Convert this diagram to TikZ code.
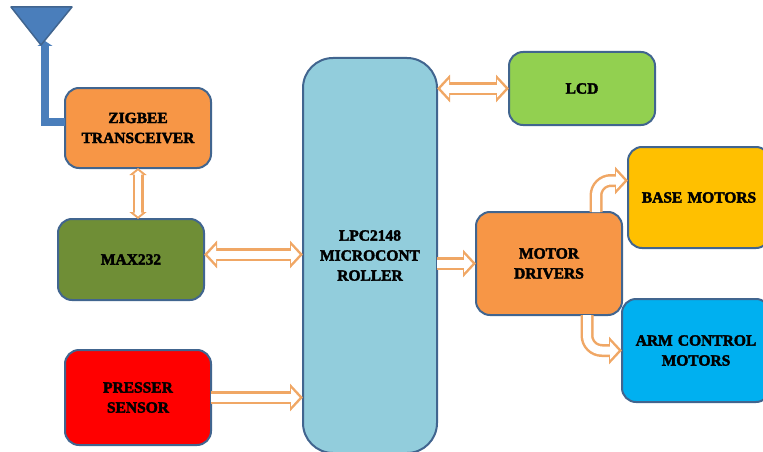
\documentclass[tikz,border=0pt]{standalone}
\usepackage{xcolor}
\usepackage{fontspec}
\setmainfont{Liberation Serif}[BoldFeatures={FakeBold=2.5}]
\usepackage{tikz}
\usetikzlibrary{arrows.meta, positioning}

\definecolor{edgeblue}{HTML}{41658F}
\definecolor{antblue}{HTML}{4A7EBB}
\definecolor{busorange}{HTML}{F0A765}
\definecolor{driveorange}{HTML}{F79646}
\definecolor{maxgreen}{HTML}{6F8E36}
\definecolor{lpcblue}{HTML}{92CDDC}
\definecolor{lcdgreen}{HTML}{92D050}
\definecolor{baseyellow}{HTML}{FFC000}
\definecolor{armblue}{HTML}{00B0F0}

\tikzset{
  block/.style={draw=edgeblue, line width=2pt, rounded corners=14pt, inner sep=0pt, outer sep=0pt,
    align=center, font=\bfseries\fontsize{15.5}{20}\selectfont},
  bus/.style={line width=13pt, busorange, -{Triangle[length=13pt,width=27pt]},
    postaction={draw=white, line width=8pt, shorten >=3.5pt, -{Triangle[length=8.5pt,width=18pt]}}},
  twobus/.style={line width=13pt, busorange, {Triangle[length=13pt,width=27pt]}-{Triangle[length=13pt,width=27pt]},
    postaction={draw=white, line width=8pt, shorten >=3.5pt, shorten <=3.5pt,
      {Triangle[length=8.5pt,width=18pt]}-{Triangle[length=8.5pt,width=18pt]}}},
  thinbus/.style={line width=11pt, busorange, {Triangle[length=7pt,width=17pt]}-{Triangle[length=7pt,width=17pt]},
    postaction={draw=white, line width=6pt, shorten >=2.5pt, shorten <=2.5pt,
      {Triangle[length=4pt,width=9pt]}-{Triangle[length=4pt,width=9pt]}}},
}

\begin{document}
\begin{tikzpicture}[x=1pt, y=-1pt, on grid]
        \useasboundingbox (0,0) rectangle (763,452);
        \clip (0,0) rectangle (763,452);

        \node[block, fill=lpcblue, rounded corners=30pt, minimum width=134pt, minimum height=395pt] (lpc) at (370,255.5) {LPC2148\\MICROCONT\\ROLLER};
        \node[block, fill=maxgreen, minimum width=146pt, minimum height=81pt] (max) [below left=4pt and 239pt of lpc] {MAX232};
        \node[block, fill=driveorange, minimum width=146pt, minimum height=80pt] (zigbee) [above right=131.5pt and 7pt of max] {ZIGBEE\\TRANSCEIVER};
        \node[block, fill=red, minimum width=146pt, minimum height=95pt] (presser) [below right=138pt and 7pt of max] {PRESSER\\SENSOR};
        \node[block, fill=driveorange, minimum width=146pt, minimum height=103pt] (motor) [below right=8pt and 179pt of lpc] {MOTOR\\DRIVERS};
        \node[block, fill=lcdgreen, minimum width=146pt, minimum height=73pt] (lcd) [above right=175pt and 33pt of motor] {LCD};
        \node[block, fill=baseyellow, minimum width=142pt, minimum height=101pt, text width=130pt] (base) [above right=66pt and 150pt of motor] {BASE MOTORS};
        \node[block, fill=armblue, minimum width=148pt, minimum height=103pt, text width=136pt] (arm) [below right=87pt and 147pt of motor] {ARM CONTROL\\MOTORS};

        % antenna
        \coordinate (ant) at (41,45);
        \draw[antblue, line width=8pt, -{Triangle[length=5pt,width=15pt]}] ([yshift=6pt]zigbee.west) -| ([xshift=4pt,yshift=4pt]ant);
        \draw[edgeblue, line width=1.5pt, fill=antblue, line join=round] (11,7) -- (72,7) -- (ant) -- cycle;

        \draw[thinbus] (zigbee.south) -- (zigbee.south |- max.north);
        \draw[twobus] ([yshift=5pt]max.east) -- ([yshift=5pt]lpc.west |- max.east);
        \draw[bus] (presser.east) -- (lpc.west |- presser.east);
        \draw[twobus] (lpc.east |- lcd.west) -- (lcd.west);
        \draw[bus] (lpc.east |- motor.west) -- (motor.west);
        \draw[bus, rounded corners=15pt] ([xshift=47pt]motor.north) |- ([yshift=17pt]base.west);
        \draw[bus, rounded corners=15pt] ([xshift=38pt]motor.south) |- (arm.west);
    \end{tikzpicture}
\end{document}
